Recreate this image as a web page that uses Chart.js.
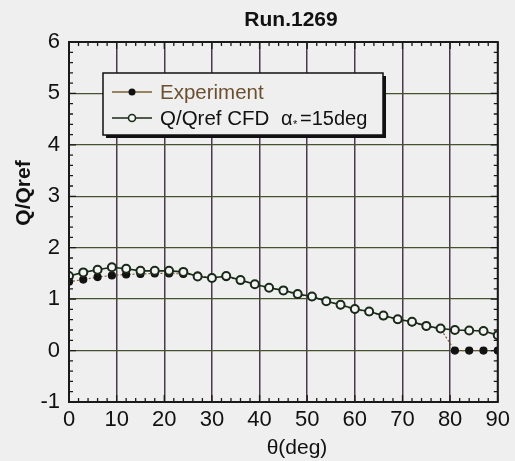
<!DOCTYPE html>
<html>
<head>
<meta charset="utf-8">
<script src="https://cdn.jsdelivr.net/npm/chart.js@4/dist/chart.umd.min.js"></script>
<style>
  html, body { margin: 0; padding: 0; background: #efefef; }
  #wrap { width: 515px; height: 461px; }
</style>
</head>
<body>
<div id="wrap"><canvas id="qChart" width="515" height="461"></canvas></div>
<script>
// theta (deg) where both series were sampled
const theta = [0, 3, 6, 9, 12, 15, 18, 21, 24, 27, 30, 33, 36, 39, 42, 45,
  48, 51, 54, 57, 60, 63, 66, 69, 72, 75, 78, 81, 84, 87, 90];
const expValues = [1.34, 1.38, 1.43, 1.46, 1.48, 1.49, 1.50, 1.50, 1.49, 1.46, 1.42,
  1.43, 1.37, 1.29, 1.22, 1.16, 1.09, 1.04, 0.96, 0.88, 0.80, 0.75, 0.67, 0.60,
  0.55, 0.47, 0.42, 0.0, 0.0, 0.0, 0.0];
const cfdValues = [1.45, 1.52, 1.57, 1.62, 1.59, 1.55, 1.55, 1.55, 1.53, 1.44, 1.41,
  1.45, 1.37, 1.29, 1.22, 1.17, 1.10, 1.05, 0.96, 0.89, 0.81, 0.76, 0.68, 0.61,
  0.56, 0.48, 0.43, 0.40, 0.39, 0.38, 0.30];
const xTicks = [0, 10, 20, 30, 40, 50, 60, 70, 80, 90];
const yTicks = [-1, 0, 1, 2, 3, 4, 5, 6];

const FONT = "'Liberation Sans', Arial, sans-serif";
const BG = "#efefef";

const toPoints = (xs, ys) => xs.map((x, i) => ({ x: x, y: ys[i] }));

// background, frame, inward minor ticks, titles and legend box
const decor = {
  id: "decor",
  beforeDraw(chart) {
    const c = chart.ctx;
    c.save();
    c.fillStyle = BG;
    c.fillRect(0, 0, chart.width, chart.height);
    c.restore();
  },
  afterDatasetsDraw(chart) {
    const c = chart.ctx;
    const a = chart.chartArea;
    const xs = chart.scales.x, ys = chart.scales.y;
    c.save();
    c.strokeStyle = "#1a1a1a";
    c.lineWidth = 1.3;
    c.beginPath();
    for (let v = 0; v <= 90; v += 2) {
      const px = xs.getPixelForValue(v);
      const len = v % 10 === 0 ? 7 : 4;
      c.moveTo(px, a.bottom); c.lineTo(px, a.bottom - len);
      c.moveTo(px, a.top); c.lineTo(px, a.top + len);
    }
    for (let k = -5; k <= 30; k++) {
      const py = ys.getPixelForValue(k / 5);
      const len = k % 5 === 0 ? 7 : 4;
      c.moveTo(a.left, py); c.lineTo(a.left + len, py);
      c.moveTo(a.right, py); c.lineTo(a.right - len, py);
    }
    c.stroke();
    c.lineWidth = 2;
    c.strokeRect(a.left, a.top, a.right - a.left, a.bottom - a.top);

    // titles
    c.fillStyle = "#111";
    c.font = "bold 21px " + FONT;
    c.textAlign = "center";
    c.textBaseline = "middle";
    c.fillText("Run.1269", 291, 20);

    c.font = "21px " + FONT;
    c.fillText("\u03b8(deg)", 297, 448);

    c.save();
    c.translate(24, 193);
    c.rotate(-Math.PI / 2);
    c.font = "bold 21px " + FONT;
    c.fillText("Q/Qref", 0, 0);
    c.restore();

    // legend
    const bx = 103, by = 73, bw = 280, bh = 62;
    c.fillStyle = "#111";
    c.fillRect(bx + 3, by + 3, bw, bh);
    c.fillStyle = BG;
    c.fillRect(bx, by, bw, bh);
    c.strokeStyle = "#111";
    c.lineWidth = 1.5;
    c.strokeRect(bx, by, bw, bh);

    const r1 = 92, r2 = 118;
    c.strokeStyle = "#7a6030";
    c.lineWidth = 1.3;
    c.beginPath(); c.moveTo(112, r1); c.lineTo(152, r1); c.stroke();
    c.fillStyle = "#111";
    c.beginPath(); c.arc(132, r1, 3.5, 0, Math.PI * 2); c.fill();

    c.strokeStyle = "#1a2a1a";
    c.beginPath(); c.moveTo(112, r2); c.lineTo(152, r2); c.stroke();
    c.fillStyle = "#f4f4f4";
    c.lineWidth = 1.6;
    c.beginPath(); c.arc(132, r2, 3.5, 0, Math.PI * 2); c.fill(); c.stroke();

    c.textAlign = "left";
    c.font = "20.5px " + FONT;
    c.fillStyle = "#6b5030";
    c.fillText("Experiment", 160, r1 + 1);
    c.fillStyle = "#111";
    c.fillText("Q/Qref CFD", 160, r2 + 1);
    c.font = "20px " + FONT;
    c.fillText("\u03b1", 281, r2 + 1);
    c.font = "11px " + FONT;
    c.fillText("*", 293, r2 + 7);
    c.font = "20px " + FONT;
    c.fillText("=15deg", 300, r2 + 1);
    c.restore();
  }
};

new Chart(document.getElementById("qChart"), {
  type: "line",
  data: {
    datasets: [
      {
        label: "Q/Qref CFD",
        data: toPoints(theta, cfdValues),
        order: 0,
        borderColor: "#1a2a1a",
        borderWidth: 1.6,
        pointRadius: 4,
        pointBorderWidth: 2,
        pointBackgroundColor: "#f4f4f4",
        pointBorderColor: "#1a2a1a",
        tension: 0
      },
      {
        label: "Experiment",
        data: toPoints(theta, expValues),
        order: 1,
        borderColor: "#7a6030",
        borderWidth: 1.2,
        borderDash: [2, 2],
        pointRadius: 3.5,
        pointBackgroundColor: "#111",
        pointBorderColor: "#111",
        tension: 0
      }
    ]
  },
  options: {
    responsive: false,
    animation: false,
    layout: { padding: { top: 42, right: 15, left: 0, bottom: 0 } },
    plugins: {
      legend: { display: false },
      title: { display: false },
      tooltip: { enabled: false }
    },
    scales: {
      x: {
        type: "linear",
        min: 0,
        max: 90,
        afterFit: s => { s.height = 59; },
        afterBuildTicks: s => { s.ticks = xTicks.map(v => ({ value: v })); },
        grid: { color: "#4a3a4a", lineWidth: 1.5, drawTicks: false },
        border: { display: false },
        ticks: { color: "#111", padding: 5, font: { family: FONT, size: 22 } }
      },
      y: {
        type: "linear",
        min: -1,
        max: 6,
        afterFit: s => { s.width = 69; },
        afterBuildTicks: s => { s.ticks = yTicks.map(v => ({ value: v })); },
        grid: { color: "#44522f", lineWidth: 1.3, drawTicks: false },
        border: { display: false },
        ticks: { color: "#111", padding: 9, font: { family: FONT, size: 22 } }
      }
    }
  },
  plugins: [decor]
});
</script>
</body>
</html>
